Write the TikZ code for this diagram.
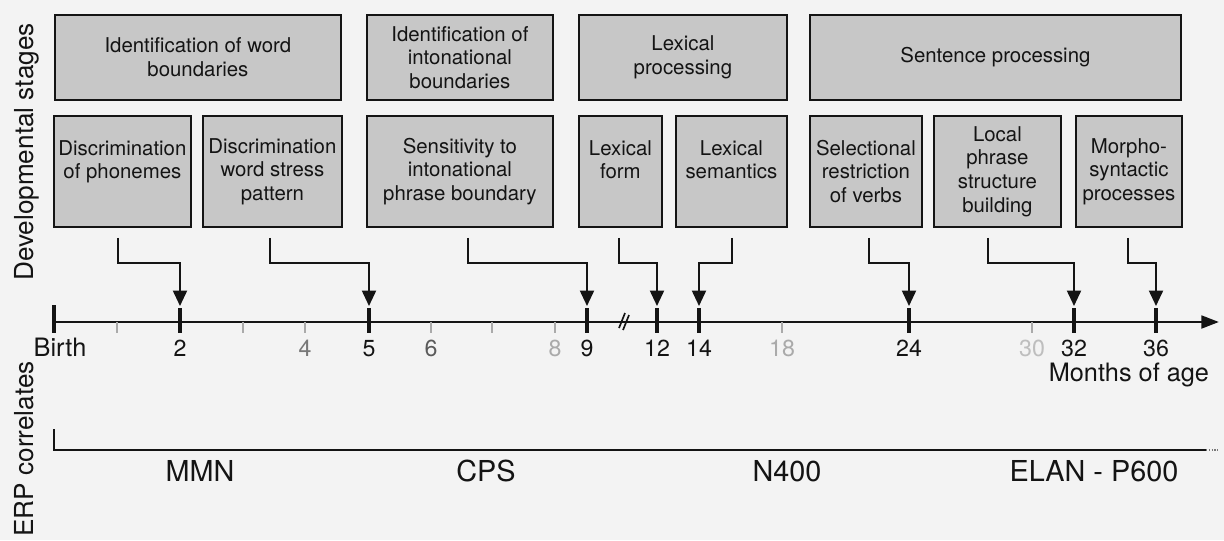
\documentclass[tikz,border=0pt]{standalone}
\usepackage{fontspec}
\setmainfont{TeX Gyre Heros}
\usetikzlibrary{arrows.meta,calc,positioning}
\definecolor{bggray}{RGB}{243,243,243}
\definecolor{boxgray}{RGB}{199,199,199}
\definecolor{ink}{RGB}{20,20,20}
\definecolor{darkgray}{RGB}{90,90,90}
\definecolor{midgray}{RGB}{120,120,120}
\definecolor{lightgray}{RGB}{170,170,170}
\definecolor{palegray}{RGB}{190,190,190}
\tikzstyle{stage}=[draw=ink,fill=boxgray,line width=1.3pt,inner sep=0pt,
               anchor=north west,align=center,text=ink,
               font=\fontsize{14.5}{16.8}\selectfont]
\tikzset{boxsize/.style 2 args={minimum width=#1*0.025cm,minimum height=#2*0.025cm}}
\tikzstyle{hit}=[->,line width=1.4pt,draw=ink]
\tikzstyle{major}=[line width=2.2pt,draw=ink]
\tikzstyle{minor}=[line width=1pt,draw=lightgray]
\tikzstyle{month}=[anchor=base,text=ink,font=\fontsize{16.5}{16.5}\selectfont]
\tikzstyle{axislabel}=[anchor=base,text=ink,font=\fontsize{18}{18}\selectfont]
\tikzstyle{erp}=[anchor=base,text=ink,font=\fontsize{20.5}{20.5}\selectfont]
\tikzstyle{side}=[rotate=90,anchor=base,text=ink,font=\fontsize{18.6}{18.6}\selectfont]

\begin{document}
\begin{tikzpicture}[x=0.025cm,y=-0.025cm,>={Triangle[width=10pt,length=11pt]}]

\useasboundingbox (0,0) rectangle (1224,540);
\fill[bggray] (0,0) rectangle (1224,540);

% % % % % % % % % % % % % % %
% developmental stages

\node[stage,boxsize={286}{85}] (words) at (54,14) {Identification of word\\boundaries};
\node[stage,boxsize={186}{85}] (inton) at (366,14) {Identification of\\intonational\\boundaries};
\node[stage,boxsize={208}{85}] (lexproc) at (578,14) {Lexical\\processing};
\node[stage,boxsize={371}{85}] (sentproc) at (809,14) {Sentence processing};

\node[stage,boxsize={137}{111}] (phon) at (53,115) {Discrimination\\of phonemes\\\mbox{}};
\node[stage,boxsize={139}{111}] (stress) at (202,115) {Discrimination\\word stress\\pattern};
\node[stage,boxsize={186}{111}] (phrase) at (366,115) {Sensitivity to\\intonational\\phrase boundary};
\node[stage,boxsize={83}{111}] (lexform) at (578,115) {Lexical\\form\\\mbox{}};
\node[stage,boxsize={111}{111}] (lexsem) at (675,115) {Lexical\\semantics\\\mbox{}};
\node[stage,boxsize={112}{111}] (select) at (809,115) {Selectional\\restriction\\of verbs};
\node[stage,boxsize={127}{111}] (local) at (933,115) {Local\\phrase\\structure\\building};
\node[stage,boxsize={106}{111}] (morph) at (1075,115) {Morpho-\\syntactic\\processes};

\node[side] (devlab) at (33,152) {Developmental stages};

% % % % % % % % % % % % % % %
% time axis

\coordinate (birth) at (54,322);
\coordinate (axisend) at (1219,322);
\draw[line width=2pt,draw=ink,-{Triangle[width=9pt,length=12.5pt]}] (birth) -- (axisend);
\draw[major] (54,305) -- (54,333);
\node[axislabel] (birthlab) at (60,356) {Birth};

\foreach \x/\m in {180/2,369/5,587/9,657/12,699/14,909/24,1074/32,1156/36} {
\draw[major] (\x,308) -- (\x,333);
\coordinate (tip\m) at (\x,306);
\node[month] (lab\m) at (\x,356) {\m};
}
\foreach \x in {117,243,492} {
\draw[minor] (\x,322) -- (\x,333);
}
\foreach \x/\m/\c in {305/4/midgray,431/6/darkgray,555/8/lightgray,782/18/lightgray,1032/30/palegray} {
\draw[minor] (\x,322) -- (\x,333);
\node[month,text=\c] (lab\m) at (\x,356) {\m};
}

% axis break
\draw[line width=1.2pt,draw=ink] (619,328) -- (625,313) (623,330) -- (629,315);

\node[axislabel,anchor=base east] (monthslab) at (1214,381) {Months of age};

% % % % % % % % % % % % % % %
% stage onsets

\foreach \b/\dx/\m in {phon/-4.5/2,stress/-2.5/5,phrase/8/9,lexform/-1.5/12,
                       lexsem/0.5/14,select/3/24,local/-9.5/32,morph/-1/36} {
\draw[hit] ($(\b.south)+(\dx,10)$) -- ++(0,25) -| (tip\m);
}

% % % % % % % % % % % % % % %
% ERP correlates

\coordinate (erpstart) at (54,429);
\coordinate (erpcorner) at (54,450);
\coordinate (erpend) at (1206,450);
\coordinate (erpfade) at (1218,450);
\draw[line width=2pt,draw=ink] (erpstart) -- (erpcorner) -- (erpend);
\draw[line width=1pt,draw=midgray,densely dotted] (erpend) -- (erpfade);

\node[erp] (mmn) at (200,481) {MMN};
\node[erp] (cps) at (486,481) {CPS};
\node[erp] (nfour) at (787,481) {N400};
\node[erp] (elan) at (1094,481) {ELAN - P600};

\node[side] (erplab) at (33,449) {ERP correlates};

\end{tikzpicture}
\end{document}
